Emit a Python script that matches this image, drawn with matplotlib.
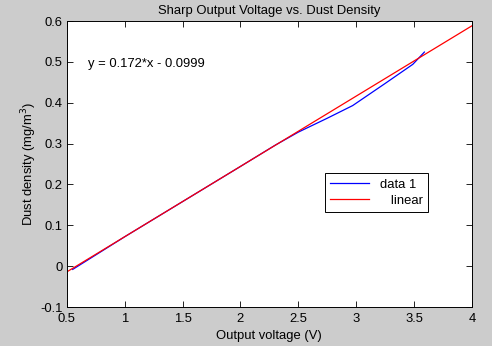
import matplotlib
matplotlib.use("Agg")
import matplotlib.pyplot as plt
import numpy as np

plt.rcParams['font.family'] = ['Liberation Sans', 'DejaVu Sans']

# datos medidos (voltaje de salida vs densidad de polvo)
voltaje = [0.55, 1.0, 1.5, 2.0, 2.3, 2.5, 2.75, 2.97, 3.25, 3.49, 3.59]
densidad = [-0.008, 0.072, 0.158, 0.244, 0.296, 0.328, 0.362, 0.393, 0.447, 0.494, 0.524]

# ajuste lineal
pendiente = 0.172
ordenada = -0.0999
x_ajuste = [0.5, 4.0]

x_ticks = [0.5, 1, 1.5, 2, 2.5, 3, 3.5, 4]
x_tick_labels = ["0.5", "1", "1.5", "2", "2.5", "3", "3.5", "4"]
y_ticks = [-0.1, 0, 0.1, 0.2, 0.3, 0.4, 0.5, 0.6]
y_tick_labels = ["-0.1", "0", "0.1", "0.2", "0.3", "0.4", "0.5", "0.6"]

fs = 9.4

fig = plt.figure(figsize=(4.92, 3.46), dpi=100)
fig.patch.set_facecolor((0.8, 0.8, 0.8))
ax = fig.add_axes([0.136, 0.1127, 0.823, 0.8266])
ax.set_facecolor("white")

ax.plot(voltaje, densidad, color="#0000ff", lw=0.9, label="data 1")
y_ajuste = [pendiente * x + ordenada for x in x_ajuste]
ax.plot(x_ajuste, y_ajuste, color="#ff0000", lw=0.9, label="   linear")

ax.set_xlim(0.5, 4.0)
ax.set_ylim(-0.1, 0.6)
ax.set_xticks(x_ticks)
ax.set_xticklabels(x_tick_labels)
ax.set_yticks(y_ticks)
ax.set_yticklabels(y_tick_labels)
ax.tick_params(direction="in", top=True, right=True, labelsize=fs, length=4, width=0.6)
ax.tick_params(axis="x", pad=4)
ax.tick_params(axis="y", pad=3)
for s in ax.spines.values():
    s.set_linewidth(0.7)

ax.text(0.68, 0.494, "y = 0.172*x - 0.0999", fontsize=fs, va="center", ha="left")

ax.set_title("Sharp Output Voltage vs. Dust Density", fontsize=fs, pad=5)
ax.set_xlabel("Output voltage (V)", fontsize=fs, labelpad=4)
ax.set_ylabel("Dust density (mg/m$^3$)", fontsize=fs)
ax.yaxis.set_label_coords(-0.069, 0.5)

leg = ax.legend(loc="upper left", bbox_to_anchor=(0.637, 0.468), fontsize=fs,
                frameon=True, fancybox=False, edgecolor="black", framealpha=1,
                handlelength=3.0, borderpad=0.4, labelspacing=0.3, borderaxespad=0)
leg.get_frame().set_linewidth(0.7)

fig.savefig("out.png", dpi=100, facecolor=fig.get_facecolor())
